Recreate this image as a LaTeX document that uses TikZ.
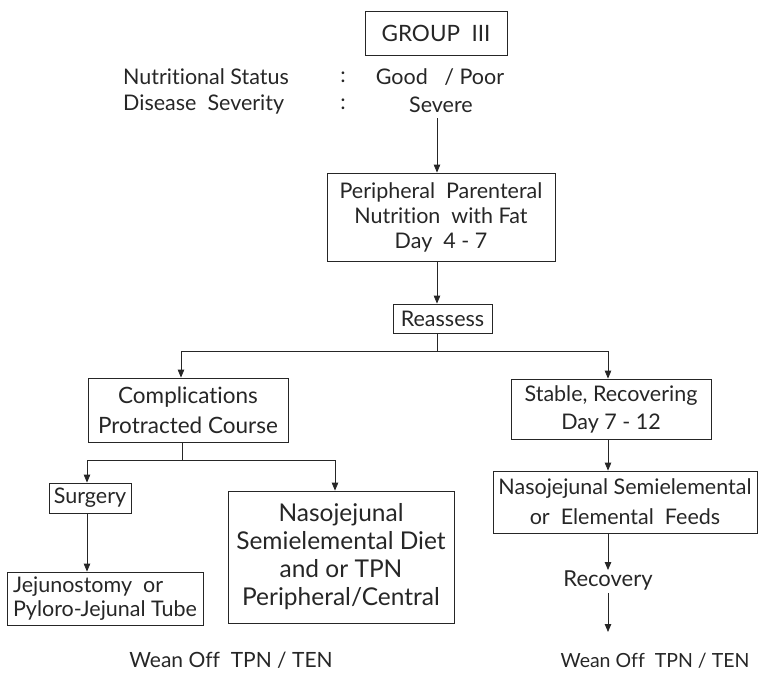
\documentclass[tikz,border=0pt]{standalone}
\usepackage{fontspec}
\setmainfont{Lato}[Ligatures=NoCommon]
\usetikzlibrary{arrows.meta}
\begin{document}
\begin{tikzpicture}[x=1pt,y=-1pt,
  every node/.style={text=black!85},
  box/.style={draw=black!85, line width=0.8pt, inner sep=0pt, align=center},
  lbl/.style={inner sep=0pt, align=center},
  conn/.style={draw=black!85, line width=0.8pt},
  arr/.style={conn, -{Triangle[width=6.5pt,length=8pt]}},
  fnorm/.style={font=\fontsize{21.5}{25}\selectfont},
]
\useasboundingbox (0,0) rectangle (760,672);

% helper x positions
\coordinate (xm) at (437,0);
\coordinate (xl) at (181,0);
\coordinate (xr) at (608,0);
\coordinate (xs) at (87,0);
\coordinate (xn) at (335,0);
\coordinate (xc) at (182,0);

% top
\node[box, minimum width=142pt, minimum height=44pt, font=\fontsize{22.5}{26}\selectfont] (group) at (436,33) {GROUP\ \ III};
\node[lbl, fnorm, anchor=west] (ns) at (123,77) {Nutritional Status};
\node[lbl, fnorm, anchor=west] (ds) at (123,104) {Disease\ \ Severity};
\node[lbl, fnorm] (c1) at (343,77) {:};
\node[lbl, fnorm] (c2) at (343,104) {:};
\node[lbl, fnorm] (gp) at (440,77) {Good\ \ \ / Poor};
\node[lbl, fnorm] (sev) at (441,105) {Severe};
\coordinate (sevend) at (437,118);

\node[box, minimum width=228pt, minimum height=88pt, font=\fontsize{21.5}{25}\selectfont] (ppn) at (441,217)
  {Peripheral\ \ Parenteral\\Nutrition\ \ with Fat\\Day\ \ 4 - 7};

\node[box, minimum width=99pt, minimum height=29pt, fnorm] (re) at (442.5,318.5) {Reassess};

\coordinate (br) at (437,351);

\node[box, minimum width=200pt, minimum height=64pt, font=\fontsize{22.5}{30}\selectfont] (comp) at (188,410)
  {Complications\\Protracted Course};
\node[box, minimum width=200pt, minimum height=60pt, font=\fontsize{21.5}{28}\selectfont] (stable) at (611,409)
  {Stable, Recovering\\Day 7 - 12};

\coordinate (cb) at (182,460);

\node[box, minimum width=82pt, minimum height=30pt, fnorm] (surg) at (90,498) {Surgery};
\node[box, minimum width=196pt, minimum height=53pt, align=left, font=\fontsize{21.5}{24}\selectfont] (jej) at (105,598.5)
  {Jejunostomy\ \ or\\Pyloro-Jejunal Tube};
\node[box, minimum width=226pt, minimum height=132pt, font=\fontsize{24.5}{28}\selectfont] (nd) at (341,557)
  {Nasojejunal\\Semielemental Diet\\and or TPN\\Peripheral/Central};
\node[lbl, font=\fontsize{21}{24}\selectfont, anchor=base] (w1) at (231,667) {Wean Off\ \ TPN / TEN};

\node[box, minimum width=264pt, minimum height=62pt, font=\fontsize{21.5}{30}\selectfont] (nsf) at (625,502)
  {Nasojejunal Semielemental\\or\ \ Elemental\ \ Feeds};
\node[lbl, font=\fontsize{22}{25}\selectfont] (rec) at (608,580) {Recovery};
\node[lbl, font=\fontsize{19.5}{24}\selectfont, anchor=base] (w2) at (655,667) {Wean Off\ \ TPN / TEN};

\coordinate (weantop) at (608,632);

% connectors
\draw[arr] (sevend) -- (xm |- ppn.north);
\draw[arr] (xm |- ppn.south) -- (xm |- re.north);
\draw[conn] (xm |- re.south) -- (br);
\draw[arr] (br) -| (xl |- comp.north);
\draw[arr] (br) -| (xr |- stable.north);
\draw[conn] (xc |- comp.south) -- (cb);
\draw[arr] (cb) -| (xs |- surg.north);
\draw[arr] (cb) -| (xn |- nd.north);
\draw[arr] (xs |- surg.south) -- (xs |- jej.north);
\draw[arr] (xr |- stable.south) -- (xr |- nsf.north);
\draw[arr] (xr |- nsf.south) -- (xr |- rec.north);
\draw[arr] ([yshift=-3pt]xr |- rec.south) -- (weantop);
\end{tikzpicture}
\end{document}
